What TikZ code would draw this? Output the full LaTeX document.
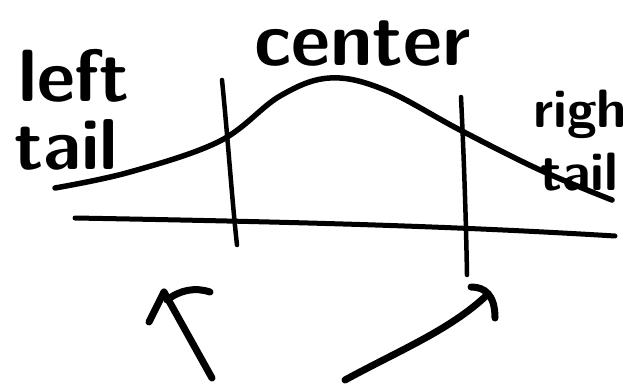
\documentclass[tikz,border=0pt]{standalone}
\begin{document}
\begin{tikzpicture}[x=1pt,y=-1pt,
  ink/.style={line width=6pt,line cap=round,line join=round,black},
  lbl/.style={font=\sffamily\bfseries\fontsize{#1}{#1}\selectfont,inner sep=0pt,anchor=base west}]
\useasboundingbox[fill=white] (0,0) rectangle (636,387);
% labels
\node[lbl=74] (left) at (18,102) {left};
\node[lbl=72] (tail1) at (14,170) {tail};
\node[lbl=76] (center) at (254,66) {center};
\node[lbl=54] (righ) at (533,128) {righ};
\node[lbl=54] (tail2) at (540,190) {tail};
% bell curve
\draw[ink,line width=5.5pt] plot[smooth,tension=0.6] coordinates
  {(55,188) (130,172) (220,141) (280,96) (330,78) (385,90) (460,130) (540,170) (612,200)};
% axis
\draw[ink,line width=5pt] (75,218) .. controls (300,222) and (450,226) .. (615,236);
% vertical cuts
\draw[ink,line width=4.5pt] (222,80) .. controls (228,140) and (232,200) .. (237,245);
\draw[ink,line width=4.5pt] (461,97) .. controls (464,160) and (466,220) .. (467,275);
% left arrow
\draw[ink,line width=7pt] (212,378) -- (164,292);
\draw[ink,line width=7pt] (149,322) -- (164,292);
\draw[ink,line width=7pt] (167,300) .. controls (180,290) and (195,287) .. (210,292);
% right arrow
\draw[ink,line width=7pt] (345,380) .. controls (400,350) and (450,330) .. (487,295);
\draw[ink,line width=7pt] (471,287) .. controls (485,287) and (495,295) .. (495,318);
\end{tikzpicture}
\end{document}
